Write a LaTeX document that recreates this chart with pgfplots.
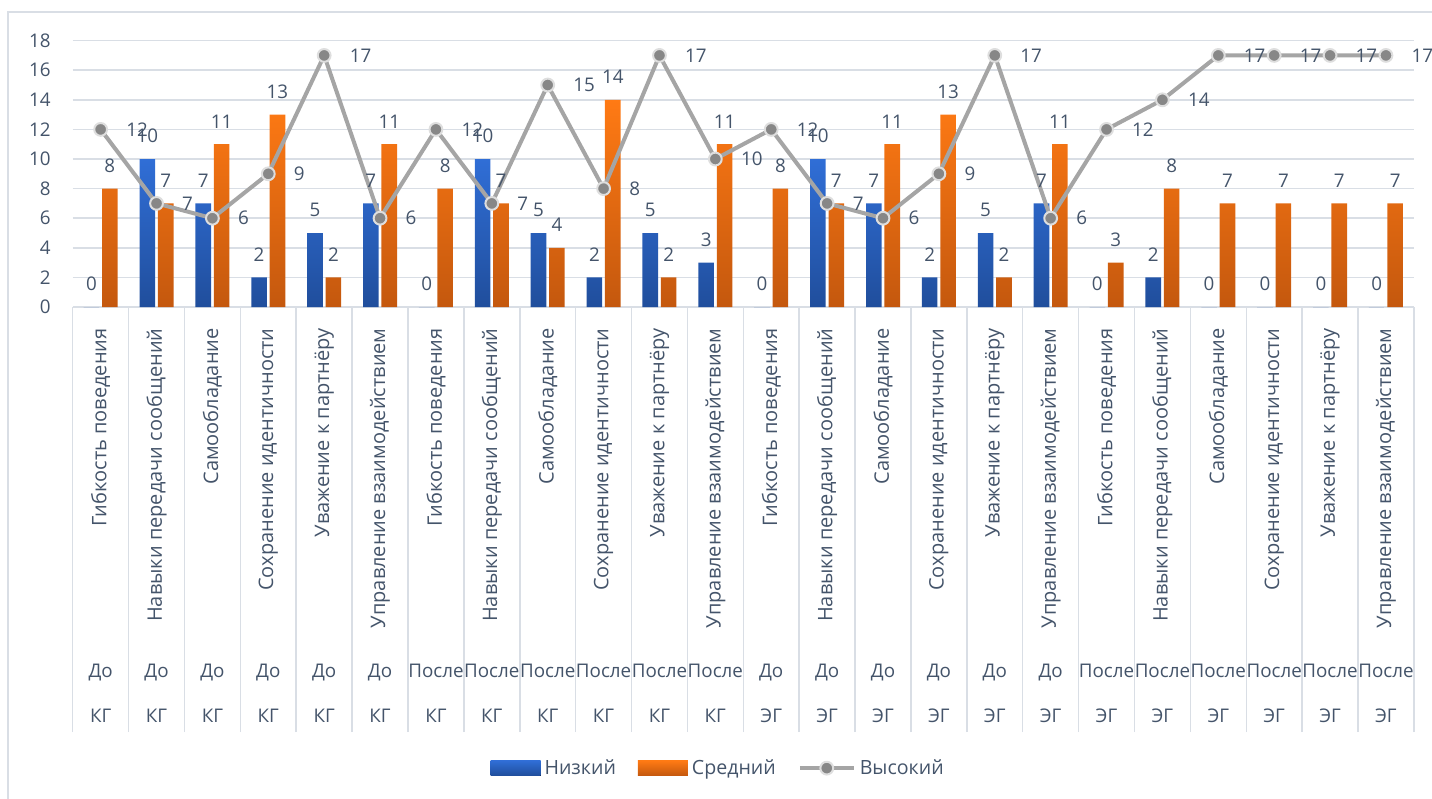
\documentclass[border=0pt]{standalone}
\usepackage{pgfplots}
\pgfplotsset{compat=1.18}
\usepackage{pgfplotstable}
\usepackage{fontspec}
\setmainfont{Open Sans}
\setsansfont{Open Sans}
\definecolor{txt}{RGB}{68,84,106}
\definecolor{gridc}{RGB}{217,222,229}
\definecolor{blueT}{RGB}{48,110,214}
\definecolor{blueB}{RGB}{32,78,156}
\definecolor{orT}{RGB}{255,122,20}
\definecolor{orB}{RGB}{196,88,14}
\definecolor{lineC}{RGB}{165,165,165}
\definecolor{markF}{RGB}{135,135,135}
\definecolor{markD}{RGB}{222,222,222}

\pgfplotstableread{
idx low mid high
0 0 8 12
1 10 7 7
2 7 11 6
3 2 13 9
4 5 2 17
5 7 11 6
6 0 8 12
7 10 7 7
8 5 4 15
9 2 14 8
10 5 2 17
11 3 11 10
12 0 8 12
13 10 7 7
14 7 11 6
15 2 13 9
16 5 2 17
17 7 11 6
18 0 3 12
19 2 8 14
20 0 7 17
21 0 7 17
22 0 7 17
23 0 7 17
}\datatable

\begin{document}
\begin{tikzpicture}
\begin{axis}[
  scale only axis,
  width=670.6pt, height=133.2pt,
  xmin=-0.5, xmax=23.5, ymin=0, ymax=18,
  ytick={0,2,...,18},
  xtick={0,...,23},
  xticklabels={Гибкость поведения,Навыки передачи сообщений,Самообладание,Сохранение идентичности,Уважение к партнёру,Управление взаимодействием,Гибкость поведения,Навыки передачи сообщений,Самообладание,Сохранение идентичности,Уважение к партнёру,Управление взаимодействием,Гибкость поведения,Навыки передачи сообщений,Самообладание,Сохранение идентичности,Уважение к партнёру,Управление взаимодействием,Гибкость поведения,Навыки передачи сообщений,Самообладание,Сохранение идентичности,Уважение к партнёру,Управление взаимодействием},
  xticklabel style={rotate=90, anchor=east, inner sep=0pt, font=\fontsize{10}{12}\selectfont, text=txt},
  xticklabel shift=10.5pt,
  yticklabel style={font=\fontsize{9.4}{11}\selectfont, text=txt, xshift=-7.5pt},
  /pgf/number format/assume math mode=true,
  axis line style={draw=none},
  major tick length=0pt,
  xtick pos=bottom, ytick pos=left,
  ymajorgrids,
  grid style={draw=gridc, line width=0.75pt},
  extra x ticks={-0.5,0.5,...,23.5},
  extra x tick labels={},
  extra x tick style={grid=none, tick align=outside, major tick length=212.5pt, tick style={draw=gridc, line width=0.75pt}},
  legend columns=3,
  legend style={draw=none, fill=none, at={(0.482,-1.731)}, anchor=center, font=\fontsize{9.8}{11}\selectfont, text=txt,
    /tikz/every even column/.append style={column sep=9pt}},
  nodes near coords style={font=\fontsize{9.4}{11}\selectfont, text=txt},
]
\coordinate (O) at (rel axis cs:0,0);
\addplot[ybar, bar width=7.8pt, bar shift=-4.6pt, draw=none, top color=blueT, bottom color=blueB,
  nodes near coords, every node near coord/.append style={anchor=south, yshift=4.5pt, xshift=-4.6pt},
  legend image code/.code={\fill[top color=blueT, bottom color=blueB] (0pt,-3.75pt) rectangle (25pt,3.75pt);}]
  table[x=idx, y=low] {\datatable};
\addlegendentry{Низкий}
\addplot[ybar, bar width=7.8pt, bar shift=4.6pt, draw=none, top color=orT, bottom color=orB,
  nodes near coords, every node near coord/.append style={anchor=south, yshift=4.5pt, xshift=4.6pt},
  legend image code/.code={\fill[top color=orT, bottom color=orB] (0pt,-3.75pt) rectangle (25pt,3.75pt);}]
  table[x=idx, y=mid] {\datatable};
\addlegendentry{Средний}
\addplot[sharp plot, color=lineC, line width=2pt, line join=round,
  mark=*, mark size=3.2pt, mark options={fill=markF, draw=markD, line width=1pt},
  nodes near coords, every node near coord/.append style={anchor=west, xshift=9pt},
  legend image code/.code={\draw[lineC, line width=2pt] (0pt,0pt) -- (27pt,0pt);
    \draw[markD, fill=markF, line width=1pt] (13.5pt,0pt) circle[radius=3.2pt];}]
  table[x=idx, y=high] {\datatable};
\addlegendentry{Высокий}
\end{axis}
\begin{axis}[
  scale only axis,
  width=670.6pt, height=133.2pt,
  xmin=-0.5, xmax=23.5, ymin=0, ymax=18,
  hide y axis,
  axis line style={draw=none},
  major tick length=0pt,
  xtick pos=bottom,
  xtick={0,...,23},
  xticklabels={{До\\КГ},{До\\КГ},{До\\КГ},{До\\КГ},{До\\КГ},{До\\КГ},{После\\КГ},{После\\КГ},{После\\КГ},{После\\КГ},{После\\КГ},{После\\КГ},{До\\ЭГ},{До\\ЭГ},{До\\ЭГ},{До\\ЭГ},{До\\ЭГ},{До\\ЭГ},{После\\ЭГ},{После\\ЭГ},{После\\ЭГ},{После\\ЭГ},{После\\ЭГ},{После\\ЭГ}},
  xticklabel style={align=center, anchor=north, inner sep=0pt, font=\fontsize{9.4}{22.5}\selectfont, text=txt},
  xticklabel shift=178.5pt,
]
\end{axis}
\draw[draw=gridc, line width=0.75pt] ([shift={(-32.35pt,147.5pt)}]O) rectangle ([shift={(700pt,-260pt)}]O);
\pgfresetboundingbox
\path[use as bounding box] ([shift={(-36.35pt,-246pt)}]O) rectangle ([shift={(679.65pt,153.5pt)}]O);
\end{tikzpicture}
\end{document}
